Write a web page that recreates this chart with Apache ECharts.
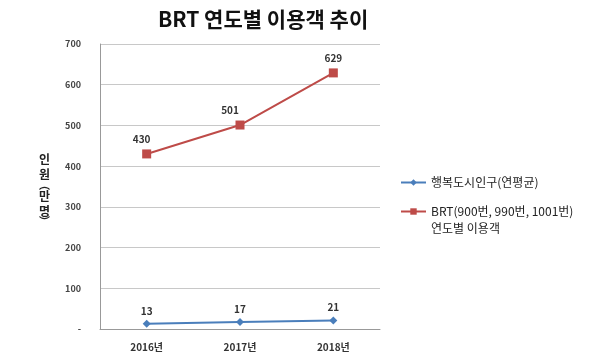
<!DOCTYPE html>
<html><head><meta charset="utf-8">
<script src="https://cdn.jsdelivr.net/npm/echarts@6/dist/echarts.min.js"></script>
<style>html,body{margin:0;padding:0;background:#fff}#c{width:600px;height:361px}</style>
</head><body><div id="c"></div>
<script>
const categories = ['2016년', '2017년', '2018년'];
const populationSeries = [13, 17, 21];
const brtSeries = [430, 501, 629];
const seriesNames = ['행복도시인구(연평균)', 'BRT(900번, 990번, 1001번)\n연도별 이용객'];
const yTicks = [0, 100, 200, 300, 400, 500, 600, 700];

const font = '"Noto Sans CJK KR", "Noto Sans", sans-serif';
const brtLabelOffsets = [[-5, 0], [-10, 0], [0, 0]];
const chart = echarts.init(document.getElementById('c'));
const legendText = { fontFamily: font, fontSize: 12, color: '#222', lineHeight: 17 };
chart.setOption({
  backgroundColor: '#fff',
  animation: false,
  title: {
    text: 'BRT 연도별 이용객 추이', left: 153, top: 4,
    textStyle: { fontFamily: font, fontSize: 21, fontWeight: 'bold', color: '#111' }
  },
  legend: [
    {
      orient: 'vertical', left: 400, top: 174, padding: 0, itemWidth: 25, itemHeight: 8, itemGap: 5,
      textStyle: legendText, data: [seriesNames[0]]
    },
    {
      orient: 'vertical', left: 400, top: 186, padding: 0, itemWidth: 25, itemHeight: 8, itemGap: 5,
      textStyle: legendText, data: [seriesNames[1]],
      formatter: name => '\n' + name
    }
  ],
  grid: { left: 100, right: 220, top: 44, bottom: 32 },
  xAxis: {
    type: 'category', data: categories, boundaryGap: true,
    axisLine: { lineStyle: { color: '#999' } },
    axisTick: { show: false },
    axisLabel: { fontFamily: font, fontSize: 10, fontWeight: 'bold', color: '#333', margin: 13 }
  },
  yAxis: {
    type: 'value', min: yTicks[0], max: yTicks[yTicks.length - 1], interval: 100,
    axisLine: { show: true, lineStyle: { color: '#999' } },
    axisTick: { show: false },
    splitLine: { lineStyle: { color: '#c8c8c8' } },
    axisLabel: { fontFamily: font, fontSize: 9, fontWeight: 'bold', color: '#444', margin: 19,
      formatter: v => v === 0 ? '-' : String(v) }
  },
  graphic: [{
    type: 'text', left: 39, top: 153,
    style: {
      text: '{c|인}\n{c|원}\n{p|︵}\n{c|만}\n{c|명}\n{p|︶}',
      fontFamily: font, fontSize: 12, fontWeight: 'bold', fill: '#222', align: 'center',
      rich: {
        c: { fontFamily: font, fontSize: 12, fontWeight: 'bold', lineHeight: 15 },
        p: { fontFamily: font, fontSize: 11, fontWeight: 'bold', lineHeight: 7 }
      }
    }
  }],
  series: [
    {
      name: seriesNames[0], type: 'line', data: populationSeries,
      symbol: 'diamond', symbolSize: 8,
      itemStyle: { color: '#4a7ebb' }, lineStyle: { color: '#4a7ebb', width: 2 },
      label: { show: true, position: 'top', distance: 4, fontFamily: font, fontSize: 10, fontWeight: 'bold', color: '#333' }
    },
    {
      name: seriesNames[1], type: 'line',
      data: brtSeries.map((v, i) => ({ value: v, label: { offset: brtLabelOffsets[i] } })),
      symbol: 'rect', symbolSize: 9,
      itemStyle: { color: '#be4b48' }, lineStyle: { color: '#be4b48', width: 2 },
      label: { show: true, position: 'top', distance: 5, fontFamily: font, fontSize: 10, fontWeight: 'bold', color: '#333' }
    }
  ]
});
</script></body></html>
